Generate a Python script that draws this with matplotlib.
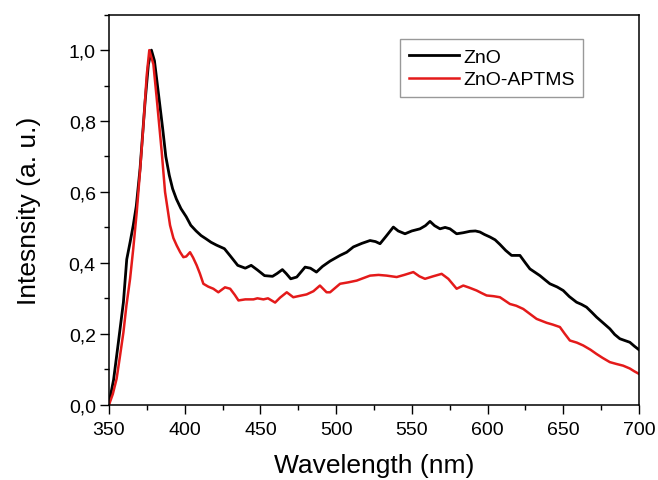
import matplotlib
matplotlib.use("Agg")
import matplotlib.pyplot as plt
from matplotlib.ticker import MultipleLocator, FuncFormatter


# ZnO spectrum (wavelength nm, normalised intensity)
zno_wl = [350, 353, 356, 359.5, 361.7, 364, 366, 368, 370.5, 373.8, 376, 378,
          380, 382, 385.4, 387.5, 389.8, 392, 394.5, 397.5, 401, 404, 407.5,
          410.8, 414, 417.4, 421, 426.2, 430, 435, 440, 443.9, 448, 452.7,
          458, 461, 464.5, 467, 470, 474, 479.5, 483, 487, 491, 496, 502.6,
          507, 511.4, 517, 522.4, 526, 529, 533, 537.8, 541, 545.5, 550,
          555.4, 559, 562, 565, 568.6, 572, 575.2, 579.6, 584, 588.4, 592,
          595, 598, 601.6, 605, 608.2, 612, 615.9, 621.4, 625, 628, 634.6,
          638, 641.2, 646, 650, 654, 658.8, 662, 665.4, 669, 672, 676,
          680.8, 684, 687.4, 690, 694, 697, 700]
zno_int = [0.005, 0.07, 0.17, 0.289, 0.41, 0.46, 0.506, 0.56, 0.666, 0.854,
           0.96, 1.0, 0.97, 0.90, 0.78, 0.70, 0.647, 0.609, 0.58, 0.553,
           0.53, 0.506, 0.49, 0.477, 0.468, 0.458, 0.45, 0.44, 0.42, 0.393,
           0.385, 0.393, 0.38, 0.364, 0.362, 0.37, 0.381, 0.37, 0.355, 0.36,
           0.388, 0.385, 0.374, 0.39, 0.405, 0.421, 0.43, 0.445, 0.455,
           0.463, 0.46, 0.454, 0.475, 0.501, 0.49, 0.482, 0.49, 0.496, 0.505,
           0.517, 0.505, 0.496, 0.5, 0.496, 0.482, 0.485, 0.489, 0.49, 0.487,
           0.48, 0.473, 0.465, 0.452, 0.435, 0.421, 0.421, 0.40, 0.383, 0.364,
           0.352, 0.341, 0.332, 0.322, 0.305, 0.289, 0.283, 0.275, 0.26,
           0.247, 0.232, 0.214, 0.198, 0.186, 0.182, 0.176, 0.165, 0.155]

# ZnO-APTMS spectrum
aptms_wl = [350, 352.5, 355, 357, 359.5, 361.5, 363.9, 366, 368.3, 370.5,
            372.7, 374.9, 376.6, 379.3, 381.5, 384.8, 387, 390.3, 392.5,
            394.7, 397, 399.1, 401, 403.5, 405.5, 407.9, 410, 412.3, 415.5,
            418.9, 422.2, 426.6, 430, 433, 435.5, 440, 445.4, 448, 452, 455,
            459.7, 463, 467.4, 471.7, 476, 480.5, 485, 489.3, 493.7, 496,
            502.6, 508, 513.6, 518, 522.4, 528, 533.4, 540, 545, 551, 555,
            558.7, 564, 569.7, 574.1, 579.6, 584, 588, 592.8, 596, 599.4,
            604, 608.2, 611, 614.8, 619, 623.6, 628, 632.4, 636, 639, 643,
            647.8, 651, 654.4, 659, 663.2, 668, 672, 676, 680.8, 685, 689.6,
            694, 697, 700]
aptms_int = [0.0, 0.03, 0.073, 0.13, 0.204, 0.28, 0.355, 0.44, 0.543, 0.66,
             0.788, 0.929, 1.0, 0.96, 0.864, 0.713, 0.60, 0.506, 0.47, 0.449,
             0.43, 0.416, 0.418, 0.43, 0.415, 0.393, 0.37, 0.341, 0.333,
             0.327, 0.317, 0.331, 0.327, 0.31, 0.294, 0.297, 0.297, 0.30,
             0.297, 0.30, 0.288, 0.302, 0.317, 0.303, 0.307, 0.311, 0.32,
             0.336, 0.317, 0.317, 0.341, 0.345, 0.350, 0.357, 0.364, 0.366,
             0.364, 0.36, 0.366, 0.374, 0.362, 0.355, 0.362, 0.369, 0.355,
             0.327, 0.336, 0.33, 0.322, 0.315, 0.308, 0.306, 0.303, 0.295,
             0.284, 0.279, 0.27, 0.256, 0.242, 0.236, 0.231, 0.226, 0.219,
             0.20, 0.181, 0.175, 0.167, 0.155, 0.143, 0.132, 0.12, 0.115,
             0.110, 0.102, 0.094, 0.087]


def comma_fmt(v, pos):
    return f"{v:.1f}".replace(".", ",")


def main() -> None:
    plt.rcParams["font.family"] = ["Liberation Sans", "DejaVu Sans"]

    fig = plt.figure(figsize=(6.58, 4.81), dpi=100)
    ax = fig.add_axes([0.1657, 0.1566, 0.8053, 0.8108])

    ax.plot(zno_wl, zno_int, color="black", lw=2.0, label="ZnO")
    ax.plot(aptms_wl, aptms_int, color="#e41a1a", lw=1.8, label="ZnO-APTMS")

    ax.set_xlim(350, 700)
    ax.set_ylim(0, 1.1)
    ax.xaxis.set_major_locator(MultipleLocator(50))
    ax.xaxis.set_minor_locator(MultipleLocator(25))
    ax.yaxis.set_major_locator(MultipleLocator(0.2))
    ax.yaxis.set_minor_locator(MultipleLocator(0.1))
    ax.yaxis.set_major_formatter(FuncFormatter(comma_fmt))

    ax.tick_params(which="major", direction="out", length=6.5, width=1.0,
                   labelsize=14, pad=3)
    ax.tick_params(axis="x", which="major", pad=5)
    ax.tick_params(which="minor", direction="out", length=3.5, width=1.0)
    for sp in ax.spines.values():
        sp.set_linewidth(1.1)

    ax.set_xlabel("Wavelength (nm)", fontsize=19, labelpad=11)
    ax.set_ylabel("Intesnsity (a. u.)", fontsize=19, labelpad=20)

    leg = ax.legend(loc="upper left", bbox_to_anchor=(0.549, 0.937),
                    fontsize=14, frameon=True, fancybox=False,
                    edgecolor="#808080", handlelength=2.6, handletextpad=0.2,
                    labelspacing=0.27, borderpad=0.45, borderaxespad=0)
    leg.get_frame().set_linewidth(1.0)

    fig.savefig("out.png", dpi=100)
    plt.close(fig)


if __name__ == "__main__":
    main()
